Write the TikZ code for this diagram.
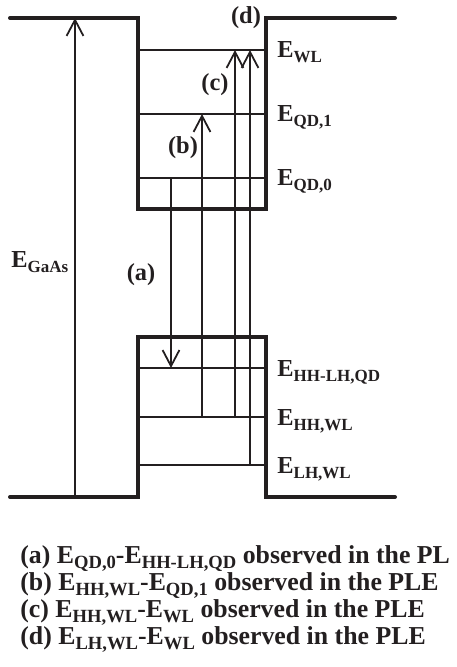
\documentclass[tikz,border=0pt]{standalone}
\usepackage{fontspec}
\setmainfont{Liberation Serif}
\usetikzlibrary{arrows.meta}
\definecolor{bdblack}{HTML}{231F20}
\newcommand{\subfont}{\fontsize{8.5}{9}\selectfont}
\newcommand{\lvl}[1]{E\raisebox{-2.5pt}{\subfont #1}}

\begin{document}
\begin{tikzpicture}[
    x=0.5pt, y=-0.5pt,
    band/.style={draw=bdblack, line width=2pt, line cap=round, line join=miter},
    level/.style={draw=bdblack, line width=1pt},
    trans/.style={draw=bdblack, line width=0.9pt,
        -{Straight Barb[length=8pt, width=8.4pt]}},
    lbl/.style={font=\fontsize{12.2}{14}\selectfont\bfseries, text=bdblack,
        inner sep=0pt, anchor=base west},
    tag/.style={font=\fontsize{12.2}{14}\selectfont\bfseries, text=bdblack,
        inner sep=0pt},
    legend/.style={lbl, font=\fontsize{12.9}{15}\selectfont\bfseries
        \renewcommand{\subfont}{\fontsize{9.3}{10}\selectfont}},
]
\useasboundingbox (0,0) rectangle (456,667);

% ---- band edges ----
\draw[band] (10,18) -- (138,18) -- (138,209) -- (266,209) -- (266,18) -- (395,18);
\draw[band] (10,497) -- (138,497) -- (138,337) -- (266,337) -- (266,497) -- (395,497);

% ---- levels in the well ----
\draw[level] (138,50) -- (266,50);
\draw[level] (138,114) -- (266,114);
\draw[level] (138,178) -- (266,178);
\draw[level] (138,368) -- (266,368);
\draw[level] (138,417) -- (266,417);
\draw[level] (138,465) -- (266,465);

% ---- level labels ----
\node[lbl] (ewl)  at (277,58)  {\lvl{WL}};
\node[lbl] (eqd1) at (277,122) {\lvl{QD,1}};
\node[lbl] (eqd0) at (277,186) {\lvl{QD,0}};
\node[lbl] (ehhlh) at (277,376) {\lvl{HH-LH,QD}};
\node[lbl] (ehh)  at (277,425) {\lvl{HH,WL}};
\node[lbl] (elh)  at (277,473) {\lvl{LH,WL}};
\node[lbl] (egaas) at (11,268) {\lvl{GaAs}};

% ---- transition end points ----
\coordinate (gaasV) at (75,497);  \coordinate (gaasC) at (75,18);
\coordinate (aTop)  at (171,178); \coordinate (aBot)  at (171,368);
\coordinate (bBot)  at (202,417); \coordinate (bTop)  at (202,114);
\coordinate (cBot)  at (235,417); \coordinate (cTop)  at (235,50);
\coordinate (dBot)  at (250,465); \coordinate (dTop)  at (250,50);

% ---- transitions ----
\draw[trans] (gaasV) -- (gaasC);
\draw[trans] (aTop) -- (aBot);
\draw[trans] (bBot) -- (bTop);
\draw[trans] (cBot) -- (cTop);
\draw[trans] (dBot) -- (dTop);

\node[tag] (taga) at (141,275) {(a)};
\node[tag] (tagb) at (183,148) {(b)};
\node[tag] (tagc) at (215,85)  {(c)};
\node[tag] (tagd) at (246,18)  {(d)};

% ---- legend ----
\node[legend] (capa) at (20,563) {(a) \lvl{QD,0}-\lvl{HH-LH,QD} observed in the PL};
\node[legend] (capb) at (20,590) {(b) \lvl{HH,WL}-\lvl{QD,1} observed in the PLE};
\node[legend] (capc) at (20,617) {(c) \lvl{HH,WL}-\lvl{WL} observed in the PLE};
\node[legend] (capd) at (20,644) {(d) \lvl{LH,WL}-\lvl{WL} observed in the PLE};

\end{tikzpicture}
\end{document}
